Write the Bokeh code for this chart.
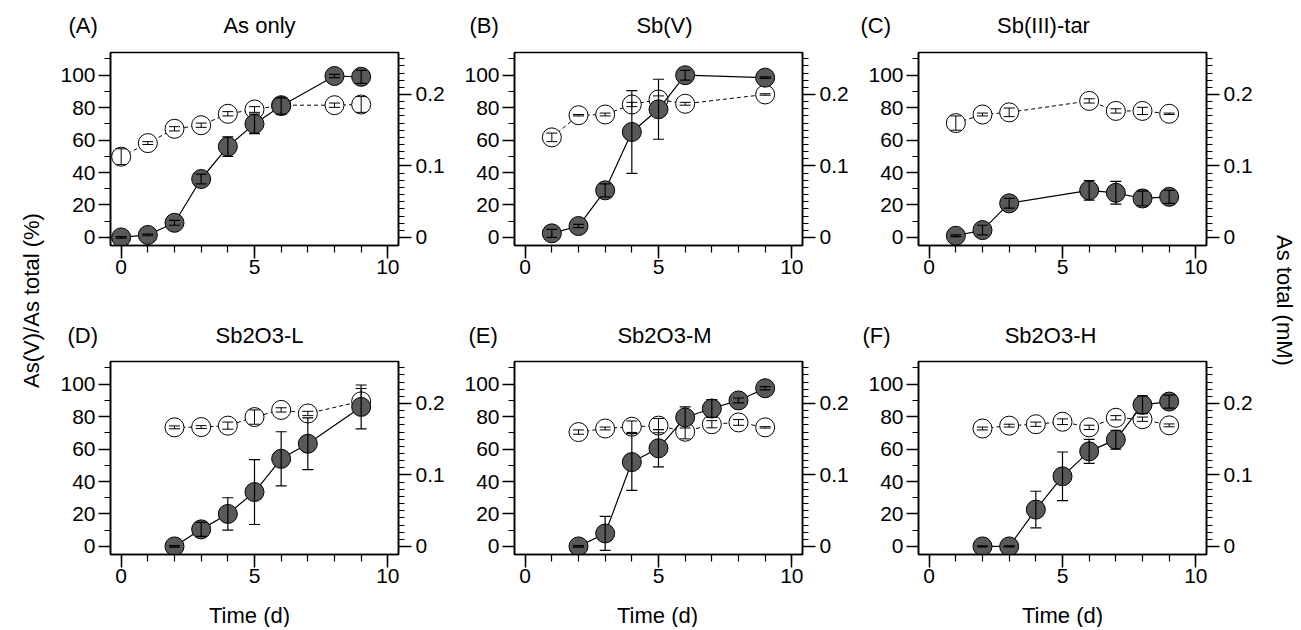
import math
from bokeh.plotting import figure
from bokeh.models import (Range1d, LinearAxis, Label, ColumnDataSource,
                          FixedTicker, NumeralTickFormatter)
from bokeh.layouts import row, column
from bokeh.embed import file_html
from bokeh.resources import INLINE

FONT = "Liberation Sans"

# ---------------- data ----------------
letters = ["(A)", "(B)", "(C)", "(D)", "(E)", "(F)"]
titles = ["As only", "Sb(V)", "Sb(III)-tar", "Sb2O3-L", "Sb2O3-M", "Sb2O3-H"]

t_A = [0, 1, 2, 3, 4, 5, 6, 8, 9]
asv_A = [0, 1.5, 9, 36, 56, 70, 81, 99.5, 99]
asv_err_A = [0.5, 0.5, 1.5, 3, 6, 6, 5, 1, 4]
tot_A = [0.113, 0.132, 0.152, 0.157, 0.173, 0.179, 0.185, 0.185, 0.186]
tot_err_A = [0.011, 0.002, 0.003, 0.003, 0.003, 0.004, 0.003, 0.003, 0.011]

t_B = [1, 2, 3, 4, 5, 6, 9]
asv_B = [2.5, 7, 29, 65, 79, 100, 98.5]
asv_err_B = [2.5, 1, 4, 25.5, 18.5, 3, 0.5]
tot_B = [0.140, 0.171, 0.172, 0.186, 0.193, 0.187, 0.200]
tot_err_B = [0.006, 0.001, 0.002, 0.003, 0.005, 0.002, 0.001]

t_C = [1, 2, 3, 6, 7, 8, 9]
asv_C = [1, 4.5, 21, 29, 27.5, 24, 25]
asv_err_C = [0.5, 3, 3, 6, 7, 4.5, 4]
tot_C = [0.160, 0.172, 0.175, 0.191, 0.177, 0.177, 0.173]
tot_err_C = [0.010, 0.002, 0.006, 0.003, 0.003, 0.005, 0.001]

t_D = [2, 3, 4, 5, 6, 7, 9]
asv_D = [0, 10.5, 20, 33.5, 54, 63.3, 86]
asv_err_D = [0.5, 4.3, 10, 20, 16.7, 16, 13.5]
tot_D = [0.1666, 0.167, 0.169, 0.181, 0.191, 0.186, 0.203]
tot_err_D = [0.002, 0.002, 0.005, 0.010, 0.003, 0.003, 0.018]

t_E = [2, 3, 4, 5, 6, 7, 8, 9]
asv_E = [0, 8, 52, 60.5, 79.5, 85, 90, 97.5]
asv_err_E = [0.5, 10.5, 17.5, 11.5, 6.5, 5.5, 1.5, 1]
tot_E = [0.160, 0.165, 0.1675, 0.169, 0.1605, 0.171, 0.1735, 0.1666]
tot_err_E = [0.003, 0.002, 0.008, 0.010, 0.010, 0.005, 0.004, 0.001]

t_F = [2, 3, 4, 5, 6, 7, 8, 9]
asv_F = [0, 0, 22.7, 43.2, 58.6, 65.8, 87.3, 89.3]
asv_err_F = [0.3, 0.3, 11.3, 15, 7.4, 5.8, 5.5, 4]
tot_F = [0.165, 0.169, 0.171, 0.1745, 0.1666, 0.180, 0.178, 0.1694]
tot_err_F = [0.002, 0.002, 0.003, 0.004, 0.003, 0.003, 0.003, 0.002]

x_ticks = [0, 5, 10]
x_minor = list(range(0, 11))
y_ticks = [0, 20, 40, 60, 80, 100]
y_minor = list(range(0, 111, 10))
r_ticks = [0, 0.1, 0.2]
r_minor = [i / 100 for i in range(0, 26)]

series = [
    (t_A, asv_A, asv_err_A, tot_A, tot_err_A),
    (t_B, asv_B, asv_err_B, tot_B, tot_err_B),
    (t_C, asv_C, asv_err_C, tot_C, tot_err_C),
    (t_D, asv_D, asv_err_D, tot_D, tot_err_D),
    (t_E, asv_E, asv_err_E, tot_E, tot_err_E),
    (t_F, asv_F, asv_err_F, tot_F, tot_err_F),
]

# ---------------- layout constants ----------------
FIG_W = 404
LEFT_W, RIGHT_W = 47, 40
BL, BR, BT = 63, 53, 8
FRAME_H = 193
ROW_H = [265, 241]          # panel figure heights (top row, bottom row)
STRIP_H = 44                # title strips above each row
BOTTOM_H = 33               # strip holding "Time (d)"
TOTAL_H = 2 * STRIP_H + ROW_H[0] + ROW_H[1] + BOTTOM_H
letter_dx = [-42, -45, -58, -43, -46, -56]
title_dx = [149, 150, 125, 149, 150, 132]
time_dx = [139, 143, 144]
title_mid = [19, 18]        # text middle, px above strip bottom
time_mid = 12


def style_axis(ax, tick_out, minor_out, standoff):
    ax.axis_line_color = "black"
    ax.axis_line_width = 1.5
    ax.major_tick_line_color = "black"
    ax.major_tick_line_width = 1.5
    ax.minor_tick_line_color = "black"
    ax.minor_tick_line_width = 1.2
    ax.major_tick_in = 0
    ax.major_tick_out = tick_out
    ax.minor_tick_in = 0
    ax.minor_tick_out = minor_out
    ax.major_label_standoff = standoff
    ax.major_label_text_font = FONT
    ax.major_label_text_font_size = "21px"
    ax.major_label_text_color = "black"


def make_panel(i):
    t, asv, asv_err, tot, tot_err = series[i]
    r = i // 3
    h = ROW_H[r]
    bb = h - BT - FRAME_H
    p = figure(width=FIG_W, height=h, x_range=Range1d(-0.4, 10.4),
               y_range=Range1d(-5, 114), output_backend="svg",
               toolbar_location=None, min_border_left=BL, min_border_right=BR,
               min_border_top=BT, min_border_bottom=bb)
    p.extra_y_ranges = {"tot": Range1d(-0.0112, 0.2587)}
    p.grid.visible = False
    p.outline_line_color = "black"
    p.outline_line_width = 1.6
    p.background_fill_color = "white"
    p.border_fill_color = "white"

    p.xaxis.ticker = FixedTicker(ticks=x_ticks, minor_ticks=x_minor)
    p.yaxis.ticker = FixedTicker(ticks=y_ticks, minor_ticks=y_minor)
    style_axis(p.xaxis[0], 13, 7, 1)
    style_axis(p.yaxis[0], 12, 6, 3)
    rax = LinearAxis(y_range_name="tot",
                     ticker=FixedTicker(ticks=r_ticks, minor_ticks=r_minor),
                     formatter=NumeralTickFormatter(format="0.[0]"))
    style_axis(rax, 13, 6, 4)
    p.add_layout(rax, "right")

    src = ColumnDataSource(dict(
        t=t, asv=asv,
        lo=[v - e for v, e in zip(asv, asv_err)],
        hi=[v + e for v, e in zip(asv, asv_err)],
        tot=tot,
        tlo=[v - e for v, e in zip(tot, tot_err)],
        thi=[v + e for v, e in zip(tot, tot_err)],
    ))

    # As total (open circles, right axis)
    p.line("t", "tot", source=src, y_range_name="tot", line_color="black",
           line_width=1, line_dash="4 3")
    p.scatter("t", "tot", source=src, y_range_name="tot", size=19,
              fill_color="white", line_color="black", line_width=1)
    p.segment(x0="t", y0="tlo", x1="t", y1="thi", source=src,
              y_range_name="tot", line_color="black", line_width=1)
    p.scatter("t", "tlo", source=src, y_range_name="tot", marker="dash",
              size=11, line_color="black", line_width=1)
    p.scatter("t", "thi", source=src, y_range_name="tot", marker="dash",
              size=11, line_color="black", line_width=1)

    # As(V)/As total (filled circles, left axis)
    p.line("t", "asv", source=src, line_color="black", line_width=1.2)
    p.scatter("t", "asv", source=src, size=19, fill_color="#595959",
              line_color="black", line_width=1)
    p.segment(x0="t", y0="lo", x1="t", y1="hi", source=src,
              line_color="black", line_width=1.2)
    p.scatter("t", "lo", source=src, marker="dash", size=11,
              line_color="black", line_width=1.2)
    p.scatter("t", "hi", source=src, marker="dash", size=11,
              line_color="black", line_width=1.2)
    return p


def blank_fig(width, height):
    f = figure(width=width, height=height, output_backend="svg",
               toolbar_location=None, min_border=0, x_axis_location=None,
               y_axis_location=None, x_range=Range1d(0, 1),
               y_range=Range1d(0, 1))
    f.outline_line_color = None
    f.grid.visible = False
    f.background_fill_color = "white"
    f.border_fill_color = "white"
    return f


def add_text(f, x, y, text, align="center", angle=0.0):
    f.add_layout(Label(x=x, y=y, x_units="screen", y_units="screen",
                       text=text, angle=angle, text_font=FONT,
                       text_font_size="22px", text_align=align,
                       text_baseline="middle", text_color="black"))


panels = [make_panel(i) for i in range(6)]

strips = []
for r in range(2):
    s = blank_fig(3 * FIG_W, STRIP_H)
    for c in range(3):
        i = 3 * r + c
        x0 = c * FIG_W + BL
        add_text(s, x0 + letter_dx[i], title_mid[r], letters[i], align="left")
        add_text(s, x0 + title_dx[i], title_mid[r], titles[i])
    strips.append(s)

bottom = blank_fig(3 * FIG_W, BOTTOM_H)
for c in range(3):
    add_text(bottom, c * FIG_W + BL + time_dx[c], time_mid, "Time (d)")

left = blank_fig(LEFT_W, TOTAL_H)
add_text(left, 31, TOTAL_H - 300, "As(V)/As total (%)", angle=math.pi / 2)
right = blank_fig(RIGHT_W, TOTAL_H)
add_text(right, 25, TOTAL_H - 300, "As total (mM)", angle=-math.pi / 2)

layout = row(left,
             column(strips[0],
                    row(panels[0], panels[1], panels[2]),
                    strips[1],
                    row(panels[3], panels[4], panels[5]),
                    bottom),
             right)

open("out.html", "w").write(file_html(layout, INLINE))
